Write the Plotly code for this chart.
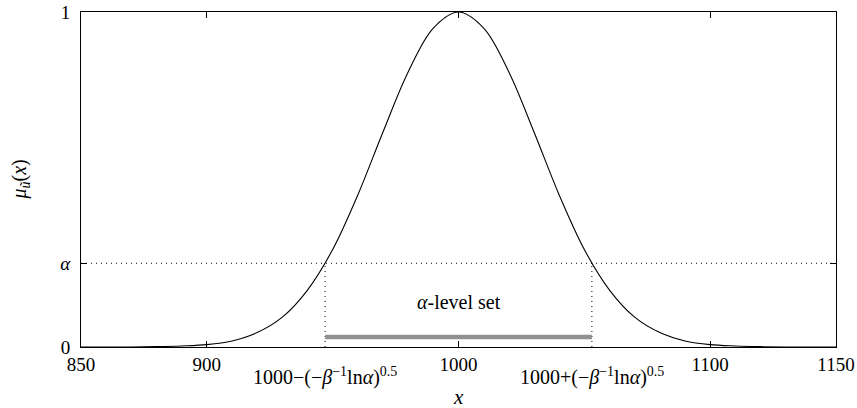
import plotly.graph_objects as go

# membership curve (x, mu)
curve_x = [850, 860, 870, 880, 890, 900, 910, 920, 930, 940, 950, 960, 970, 980, 990,
           1000, 1010, 1020, 1030, 1040, 1050, 1060, 1070, 1080, 1090, 1100, 1110, 1120,
           1130, 1140, 1150]
curve_y = [0.000, 0.000, 0.000, 0.001, 0.003, 0.007, 0.018, 0.043, 0.089, 0.170, 0.291,
           0.454, 0.642, 0.821, 0.952, 1.000, 0.952, 0.821, 0.642, 0.454, 0.291, 0.170,
           0.089, 0.043, 0.018, 0.007, 0.003, 0.001, 0.000, 0.000, 0.000]

alpha = 0.25
cut_x = [947, 1053]
bar_y = 0.03
label_y = 0.134

x_tickvals = [850, 900, 1000, 1100, 1150]
x_ticktext = ["850", "900", "1000", "1100", "1150"]
cut_labels = ["1000\u2212(\u2212<i>\u03b2</i><sup>\u22121</sup>ln<i>\u03b1</i>)<sup>0.5</sup>",
              "1000+(\u2212<i>\u03b2</i><sup>\u22121</sup>ln<i>\u03b1</i>)<sup>0.5</sup>"]
y_tickvals = [0, alpha, 1]
y_ticktext = ["0", "<i>\u03b1</i>", "1"]

FONT = "Liberation Serif, Times New Roman, serif"
DOT = "1px,4px"

fig = go.Figure()

# alpha horizontal dotted line
fig.add_trace(go.Scatter(x=[850, 1150], y=[alpha, alpha], mode="lines",
                         line=dict(color="black", width=1, dash=DOT), hoverinfo="skip"))
# vertical dotted lines
for cx in cut_x:
    fig.add_trace(go.Scatter(x=[cx, cx], y=[0, alpha], mode="lines",
                             line=dict(color="black", width=1, dash=DOT), hoverinfo="skip"))
# alpha-level set bar
fig.add_trace(go.Scatter(x=cut_x, y=[bar_y, bar_y], mode="lines",
                         line=dict(color="#919191", width=4.5), hoverinfo="skip"))
# curve
fig.add_trace(go.Scatter(x=curve_x, y=curve_y, mode="lines",
                         line=dict(color="black", width=1.1, shape="spline", smoothing=1.0)))

fig.add_annotation(x=1000, y=label_y, text="<i>\u03b1</i>-level set", showarrow=False,
                   font=dict(family=FONT, size=20, color="black"))
for cx, lab in zip(cut_x, cut_labels):
    fig.add_annotation(x=cx, y=0, yref="y", text=lab, showarrow=False,
                       yanchor="middle", yshift=-29,
                       font=dict(family=FONT, size=20, color="black"))

# axis titles
fig.add_annotation(x=1000, y=0, yref="paper", text="<i>x</i>", showarrow=False,
                   yanchor="middle", yshift=-50,
                   font=dict(family=FONT, size=21, color="black"))
fig.add_annotation(x=0, xref="paper", y=0.5, yref="paper",
                   text="<i>\u03bc</i><sub><i>\u0169</i></sub>(<i>x</i>)", showarrow=False,
                   textangle=-90, xanchor="center", xshift=-61,
                   font=dict(family=FONT, size=20, color="black"))

fig.update_layout(
    width=857, height=408,
    margin=dict(l=81, r=21, t=12, b=61, autoexpand=False),
    plot_bgcolor="white", paper_bgcolor="white",
    showlegend=False,
    font=dict(family=FONT, size=19, color="black"),
    xaxis=dict(range=[850, 1150], tickvals=x_tickvals, ticktext=x_ticktext, automargin=False,
               showgrid=False, zeroline=False, showline=True, linecolor="black", linewidth=1,
               mirror="ticks", ticks="inside", ticklen=6, tickcolor="black",
               tickfont=dict(family=FONT, size=19)),
    yaxis=dict(range=[0, 1], tickvals=y_tickvals, ticktext=y_ticktext, automargin=False,
               showgrid=False, zeroline=False, showline=True, linecolor="black", linewidth=1,
               mirror="ticks", ticks="inside", ticklen=6, tickcolor="black",
               ticklabelstandoff=6, tickfont=dict(family=FONT, size=19)),
)

fig.write_html("out.html")
